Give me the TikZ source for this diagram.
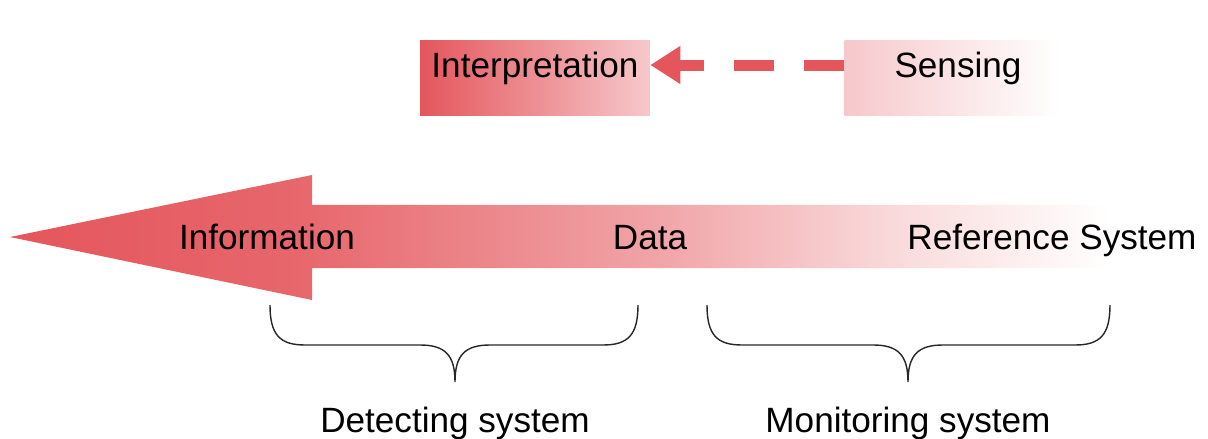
\documentclass[tikz,border=0pt]{standalone}
\usepackage{fontspec}
\setmainfont{Liberation Sans}
\usetikzlibrary{positioning, arrows.meta}
\definecolor{infoRed}{RGB}{228,86,92}
\definecolor{paleRed}{RGB}{246,200,203}
\pgfdeclarehorizontalshading{infofade}{100bp}{color(0bp)=(infoRed); color(25bp)=(infoRed);
  color(37bp)=(infoRed!90); color(52bp)=(infoRed!54); color(62bp)=(infoRed!22);
  color(71bp)=(white); color(100bp)=(white)}

\begin{document}
\begin{tikzpicture}[
  x=0.02cm, y=-0.02cm,
  every node/.style={font=\fontsize{20}{24}\selectfont, text=black},
  stagebox/.style={inner sep=0pt, text height=0.75cm, text depth=0.77cm,
                   minimum width=#1, align=center},
  dasharrow/.style={infoRed, line width=0.22cm, dash pattern=on 0.8cm off 0.6cm,
                    -{Triangle[length=0.6cm, width=0.72cm]}},
  curly/.style={draw=black!85, line width=0.8pt},
]
  \useasboundingbox (0,0) rectangle (1208,439);

  % top row
  \node[stagebox=4.6cm, left color=infoRed, right color=paleRed] (interp) at (535,78) {Interpretation};
  \node[stagebox=4.3cm, left color=paleRed, right color=white] (sense) at (952,78) {\hspace{0.24cm}Sensing};
  \draw[dasharrow] ([yshift=0.26cm]sense.west) -- ([yshift=0.26cm]interp.east);

  % big arrow
  \coordinate (tip) at (10,237);
  \coordinate (headtop) at (312,175);
  \coordinate (headbot) at (312,300);
  \shade[shading=infofade] (tip) -- (headtop) -- (312,205) -- (1205,205)
    -- (1205,268) -- (312,268) -- (headbot) -- cycle;
  \node[anchor=base] (info) at (267,250) {Information};
  \node[anchor=base] (data) at (650,250) {Data};
  \node[anchor=base] (refsys) at (1052,250) {Reference System};

  % braces
  \draw[curly] (270,305) .. controls (270,335) and (280,345) .. (305,345) -- (420,345)
    .. controls (445,345) and (455,355) .. (455,382) .. controls (455,355) and (465,345) .. (490,345)
    -- (603,345) .. controls (628,345) and (638,335) .. (638,305);
  \draw[curly] (707,305) .. controls (707,335) and (717,345) .. (742,345) -- (873,345)
    .. controls (898,345) and (908,355) .. (908,382) .. controls (908,355) and (918,345) .. (943,345)
    -- (1075,345) .. controls (1100,345) and (1110,335) .. (1110,305);
  \node[anchor=base] (detect) at (455,432) {Detecting system};
  \node[anchor=base] (monitor) at (908,432) {Monitoring system};
\end{tikzpicture}
\end{document}
